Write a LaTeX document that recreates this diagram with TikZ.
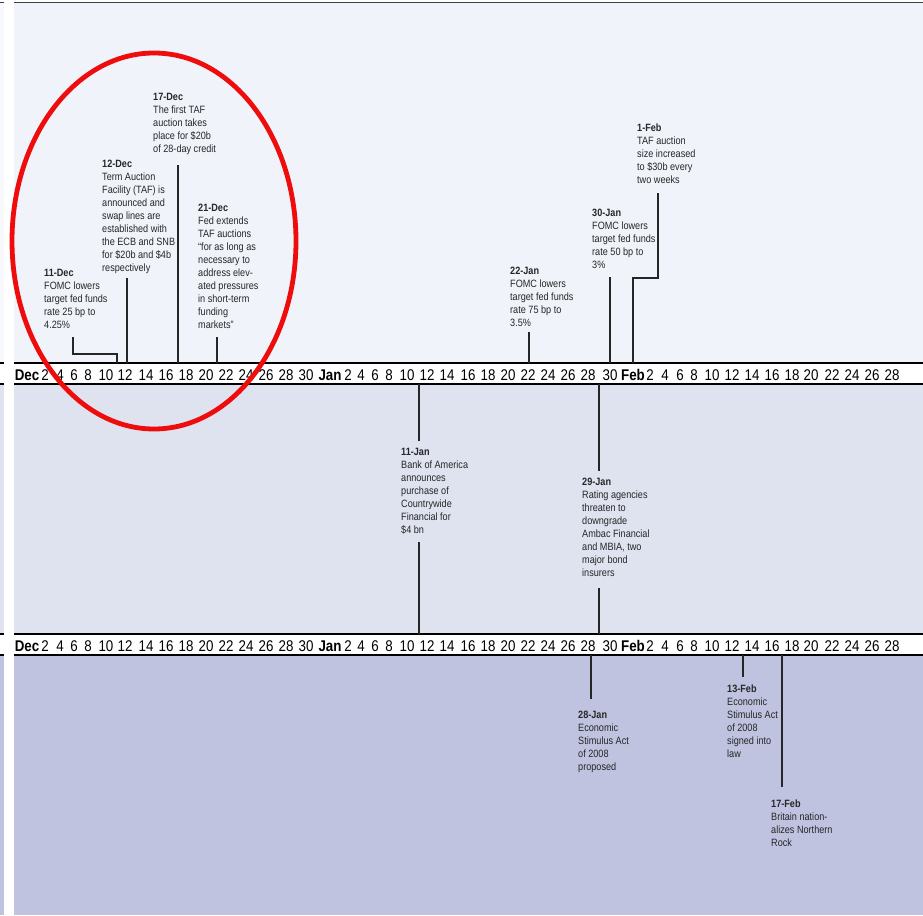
\documentclass[tikz,border=0pt]{standalone}
\usepackage{fontspec}
\setmainfont{Liberation Sans}[FakeStretch=0.86]
\usepackage{tikz}
\usetikzlibrary{positioning}

\definecolor{panelA}{RGB}{240,244,250}
\definecolor{panelB}{RGB}{223,227,240}
\definecolor{panelC}{RGB}{191,195,224}
\definecolor{ringred}{RGB}{238,12,12}

\newcommand{\evdate}[1]{\textbf{#1}}

\begin{document}
\begin{tikzpicture}[
    x=1pt, y=-1pt,
    event/.style={anchor=north west, align=left, inner sep=0pt, text=black!85, font=\fontsize{10.6}{13}\selectfont},
    link/.style={draw=black!85, line width=1.3pt},
    tick/.style={anchor=base, inner sep=0pt, font=\fontsize{15.5}{15.5}\selectfont},
    month/.style={anchor=base, inner sep=0pt, font=\fontsize{15.5}{15.5}\selectfont\bfseries},
    bar/.style={draw=black, line width=1.8pt}
]
\useasboundingbox (0,0) rectangle (923,915);

% Panels
\fill[white] (0,0) rectangle (923,915);
\fill[panelA] (14,3) rectangle (923,363);
\fill[panelB] (14,384) rectangle (923,634);
\fill[panelC] (14,655) rectangle (923,915);
\fill[panelA!60] (0,3) rectangle (4,363);
\fill[panelB] (0,384) rectangle (4,634);
\fill[panelC] (0,655) rectangle (4,915);
\draw[black!75, line width=1.2pt] (0,2.5) -- (923,2.5);

% Date axes
\foreach \ax/\y/\yt/\yb in {a/380.5/363/384, b/651.5/634/655} {
  \draw[bar] (0,\yt) -- (923,\yt);
  \draw[bar] (0,\yb) -- (923,\yb);
  \node[month] (\ax-dec) at (27,\y) {Dec};
  \node[month] (\ax-jan) at (330,\y) {Jan};
  \node[month] (\ax-feb) at (633,\y) {Feb};
  \foreach \x/\d in {45/2, 60/4, 74/6, 88/8, 106/10, 125/12, 146/14, 166/16,
      186/18, 206/20, 226/22, 246/24, 266/26, 286/28, 306/30,
      348/2, 361/4, 375/6, 389/8, 407/10, 427/12, 447/14, 468/16,
      488/18, 508/20, 528/22, 548/24, 568/26, 588/28, 610/30,
      650/2, 665/4, 680/6, 694/8, 712/10, 732/12, 752/14, 772/16,
      792/18, 811/20, 832/22, 852/24, 872/26, 892/28}
    \node[tick] (\ax-\x) at (\x,\y) {\d};
}
\fill[white] (4,0) rectangle (13.5,915);

% Events above the first axis
\node[event] (ev-11dec) at (44,269) {\evdate{11-Dec}\\FOMC lowers\\target fed funds\\rate 25 bp to\\4.25\%};
\node[event] (ev-12dec) at (102,160) {\evdate{12-Dec}\\Term Auction\\Facility (TAF) is\\announced and\\swap lines are\\established with\\the ECB and SNB\\for \$20b and \$4b\\respectively};
\node[event] (ev-17dec) at (153,93) {\evdate{17-Dec}\\The first TAF\\auction takes\\place for \$20b\\of 28-day credit};
\node[event] (ev-21dec) at (198,204) {\evdate{21-Dec}\\Fed extends\\TAF auctions\\``for as long as\\necessary to\\address elev-\\ated pressures\\in short-term\\funding\\markets''};
\node[event] (ev-22jan) at (510,267) {\evdate{22-Jan}\\FOMC lowers\\target fed funds\\rate 75 bp to\\3.5\%};
\node[event] (ev-30jan) at (592,209) {\evdate{30-Jan}\\FOMC lowers\\target fed funds\\rate 50 bp to\\3\%};
\node[event] (ev-1feb) at (637,124) {\evdate{1-Feb}\\TAF auction\\size increased\\to \$30b every\\two weeks};

\coordinate (up-11dec) at (73,337);   \coordinate (ax-11dec) at (117,363);
\coordinate (up-12dec) at (127,278);  \coordinate (ax-12dec) at (127,363);
\coordinate (up-17dec) at (178,165);  \coordinate (ax-17dec) at (178,363);
\coordinate (up-21dec) at (217,337);  \coordinate (ax-21dec) at (217,363);
\coordinate (up-22jan) at (529,332);  \coordinate (ax-22jan) at (529,363);
\coordinate (up-30jan) at (610,277);  \coordinate (ax-30jan) at (610,363);
\coordinate (up-1feb) at (658,193);   \coordinate (ax-1feb) at (633,363);

\draw[link] (up-11dec) -- ++(0,17) -| (ax-11dec);
\draw[link] (up-12dec) -- (ax-12dec);
\draw[link] (up-17dec) -- (ax-17dec);
\draw[link] (up-21dec) -- (ax-21dec);
\draw[link] (up-22jan) -- (ax-22jan);
\draw[link] (up-30jan) -- (ax-30jan);
\draw[link] (up-1feb) -- ++(0,85) -| (ax-1feb);

% Events between the axes
\node[event] (ev-11jan) at (401,448) {\evdate{11-Jan}\\Bank of America\\announces\\purchase of\\Countrywide\\Financial for\\\$4 bn};
\node[event] (ev-29jan) at (582,478) {\evdate{29-Jan}\\Rating agencies\\threaten to\\downgrade\\Ambac Financial\\and MBIA, two\\major bond\\insurers};

\coordinate (hi-11jan) at (419,384);  \coordinate (in-11jan) at (419,441);
\coordinate (out-11jan) at (419,542); \coordinate (lo-11jan) at (419,634);
\coordinate (hi-29jan) at (599,384);  \coordinate (in-29jan) at (599,471);
\coordinate (out-29jan) at (599,588); \coordinate (lo-29jan) at (599,634);

\draw[link] (hi-11jan) -- (in-11jan);
\draw[link] (out-11jan) -- (lo-11jan);
\draw[link] (hi-29jan) -- (in-29jan);
\draw[link] (out-29jan) -- (lo-29jan);

% Events below the second axis
\node[event] (ev-28jan) at (578,711) {\evdate{28-Jan}\\Economic\\Stimulus Act\\of 2008\\proposed};
\node[event] (ev-13feb) at (727,685) {\evdate{13-Feb}\\Economic\\Stimulus Act\\of 2008\\signed into\\law};
\node[event] (ev-17feb) at (771,800) {\evdate{17-Feb}\\Britain nation-\\alizes Northern\\Rock};

\coordinate (ax-28jan) at (591,655);  \coordinate (dn-28jan) at (591,699);
\coordinate (ax-13feb) at (743,655);  \coordinate (dn-13feb) at (743,677);
\coordinate (ax-17feb) at (782,655);  \coordinate (dn-17feb) at (782,787);

\draw[link] (ax-28jan) -- (dn-28jan);
\draw[link] (ax-13feb) -- (dn-13feb);
\draw[link] (ax-17feb) -- (dn-17feb);

% Red ring round the December events
\draw[ringred, line width=4.8pt] (154,241) ellipse [x radius=142pt, y radius=188pt];

\end{tikzpicture}
\end{document}
